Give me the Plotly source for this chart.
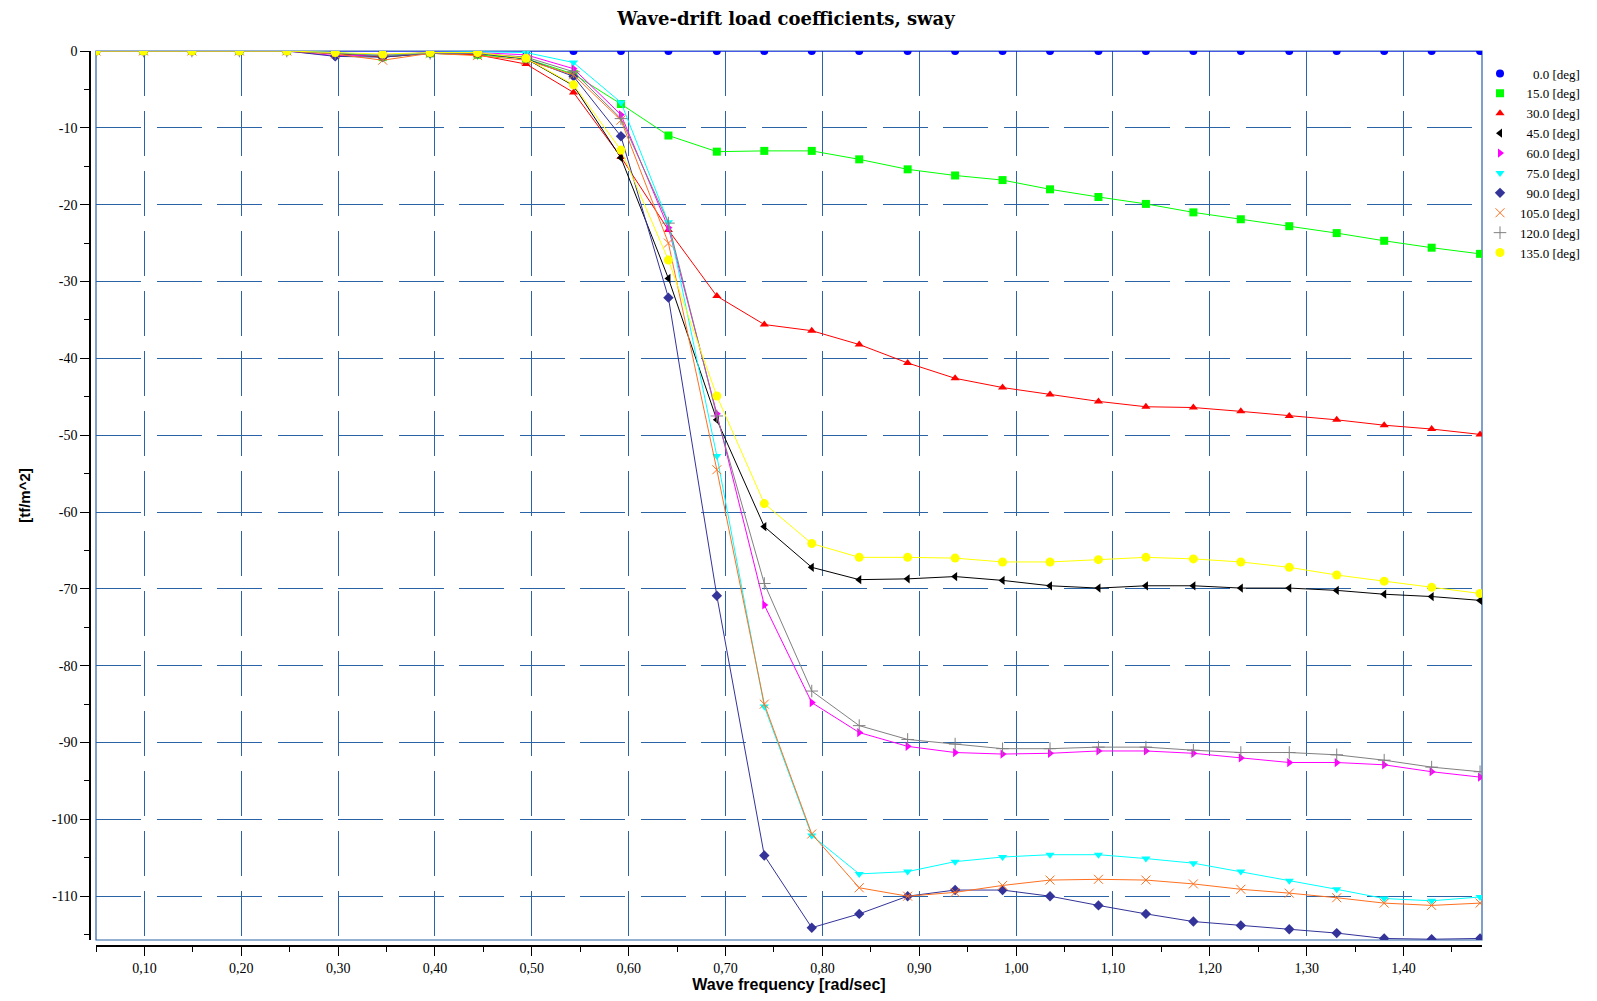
import plotly.graph_objects as go

# Wave frequencies [rad/sec]
freq = [0.050, 0.099, 0.149, 0.198, 0.247, 0.297, 0.346, 0.395, 0.444, 0.494,
        0.543, 0.592, 0.641, 0.691, 0.740, 0.789, 0.838, 0.888, 0.937, 0.986,
        1.035, 1.085, 1.134, 1.183, 1.232, 1.282, 1.331, 1.380, 1.429, 1.479]

headings = ["0.0", "15.0", "30.0", "45.0", "60.0", "75.0", "90.0", "105.0", "120.0", "135.0"]

sway_0 = [0.0] * 30
sway_15 = [0, 0, 0, 0, 0, -0.3, -0.8, -0.3, -0.5, -1.0,
           -3.0, -6.9, -11.0, -13.1, -13.0, -13.0, -14.1, -15.4, -16.2, -16.8,
           -18.0, -19.0, -19.9, -21.0, -21.9, -22.8, -23.7, -24.7, -25.6, -26.4]
sway_30 = [0, 0, 0, 0, 0, -0.3, -0.8, -0.3, -0.5, -1.7,
           -5.4, -13.8, -23.3, -31.9, -35.6, -36.4, -38.2, -40.6, -42.6, -43.8,
           -44.7, -45.6, -46.3, -46.4, -46.9, -47.5, -48.0, -48.7, -49.2, -49.9]
sway_45 = [0, 0, 0, 0, 0, -0.3, -0.6, -0.2, -0.3, -1.0,
           -4.5, -13.9, -29.6, -48.0, -61.9, -67.2, -68.8, -68.7, -68.4, -68.9,
           -69.6, -69.9, -69.6, -69.6, -69.9, -69.9, -70.2, -70.7, -71.0, -71.5]
sway_60 = [0, 0, 0, 0, 0, -0.6, -0.5, -0.2, -0.2, -0.5,
           -2.3, -8.3, -23.0, -47.2, -72.1, -84.8, -88.7, -90.5, -91.3, -91.5,
           -91.4, -91.1, -91.1, -91.4, -92.0, -92.6, -92.6, -92.9, -93.8, -94.5]
sway_75 = [0, 0, 0, 0, 0, -0.2, -0.6, -0.2, -0.1, -0.2,
           -1.5, -6.7, -22.3, -52.7, -85.3, -102.1, -107.1, -106.8, -105.5, -104.9,
           -104.6, -104.6, -105.1, -105.7, -106.8, -108.0, -109.1, -110.3, -110.6, -110.1]
sway_90 = [0, 0, 0, 0, 0, -0.7, -0.8, -0.3, -0.3, -1.0,
           -3.3, -11.1, -32.1, -70.9, -104.7, -114.1, -112.3, -110.0, -109.2, -109.2,
           -110.0, -111.2, -112.3, -113.3, -113.8, -114.3, -114.8, -115.5, -115.6, -115.5]
sway_105 = [0, 0, 0, 0, 0, -0.4, -1.2, -0.3, -0.6, -1.2,
            -3.1, -9.0, -25.0, -54.5, -85.0, -101.9, -108.9, -110.0, -109.5, -108.6,
            -107.9, -107.8, -107.9, -108.4, -109.1, -109.6, -110.2, -110.9, -111.2, -110.9]
sway_120 = [0, 0, 0, 0, 0, -0.3, -0.6, -0.3, -0.3, -0.8,
            -2.7, -8.8, -22.4, -47.5, -69.3, -83.3, -87.8, -89.6, -90.2, -90.8,
            -90.8, -90.6, -90.6, -91.0, -91.3, -91.3, -91.6, -92.3, -93.2, -93.8]
sway_135 = [0, 0, 0, 0, 0, -0.2, -0.4, -0.2, -0.2, -0.95,
            -4.4, -12.9, -27.2, -44.9, -58.9, -64.1, -65.9, -65.9, -66.0, -66.5,
            -66.5, -66.2, -65.9, -66.1, -66.5, -67.2, -68.2, -69.0, -69.8, -70.6]

series = [sway_0, sway_15, sway_30, sway_45, sway_60, sway_75, sway_90, sway_105, sway_120, sway_135]

y_tick_vals = [0, -10, -20, -30, -40, -50, -60, -70, -80, -90, -100, -110]
y_tick_text = ["0", "-10", "-20", "-30", "-40", "-50", "-60", "-70", "-80", "-90", "-100", "-110"]

colors = ["#0000ff", "#00ff00", "#ff0000", "#000000", "#ff00ff", "#00ffff",
          "#333399", "#ff7020", "#808080", "#ffff00"]
symbols = ["circle", "square", "triangle-up", "triangle-left", "triangle-right",
           "triangle-down", "diamond", "x-thin", "cross-thin", "circle"]
sizes = [8, 8, 8, 8, 8, 8, 8, 9, 9, 9]

# page body has an 8px margin: figure is placed at (8, 8)
W, H = 1581, 985
L, R, T, B = 82, 107, 43, 47
OFF = 6
PW, PH = W - L - R, H - T - B

fig = go.Figure()

for vals, col, sym, sz in zip(series, colors, symbols, sizes):
    thin = sym.endswith("-thin")
    fig.add_trace(go.Scatter(
        x=freq, y=vals, mode="lines+markers", showlegend=False,
        line=dict(color=col, width=1),
        marker=dict(symbol=sym, size=sz, color=col,
                    line=dict(color=col, width=1 if thin else 0)),
    ))

# legend entries (marker only)
pad = {1: "\u2007\u2007", 2: "\u2007", 3: ""}
for name, col, sym, sz in zip(headings, colors, symbols, sizes):
    thin = sym.endswith("-thin")
    label = pad[len(name.split(".")[0])] + name + " [deg]"
    fig.add_trace(go.Scatter(
        x=[None], y=[None], mode="markers", name=label,
        marker=dict(symbol=sym, size=sz, color=col,
                    line=dict(color=col, width=1 if thin else 0)),
    ))

grid_col = "#2a63a6"

fig.update_layout(
    width=W, height=H,
    margin=dict(l=L, r=R, t=T, b=B, pad=0, autoexpand=False),
    paper_bgcolor="white", plot_bgcolor="white",
    separators=", ",
    title=dict(text="<b>Wave-drift load coefficients, sway</b>",
               x=0.5, xref="paper", xanchor="center",
               y=1 - 11.0 / H, yref="container", yanchor="middle",
               font=dict(family="DejaVu Serif", size=18, color="black")),
    font=dict(family="Liberation Serif", size=13, color="black"),
    legend=dict(x=(1480 - 8) / W, xref="container", xanchor="left",
                y=1 - (58.5 - 8) / H, yref="container", yanchor="top",
                bgcolor="rgba(0,0,0,0)", borderwidth=0,
                font=dict(family="Liberation Serif", size=13, color="black"),
                itemwidth=30, tracegroupgap=0),
    xaxis=dict(
        domain=[OFF / PW, 1], anchor="free", position=0,
        range=[0.05, 1.481], autorange=False,
        tickmode="linear", tick0=0, dtick=0.1, tickformat=".2f",
        ticks="outside", ticklen=9, tickwidth=1, tickcolor="black",
        minor=dict(tick0=0.05, dtick=0.1, ticks="outside", ticklen=5,
                   tickwidth=1, tickcolor="black", showgrid=False),
        showline=True, linecolor="black", linewidth=1.5,
        showgrid=True, gridcolor=grid_col, gridwidth=1, griddash="45px,15px",
        zeroline=False, automargin=False,
        tickfont=dict(family="Liberation Serif", size=14, color="black"),
        title=dict(text="<b>Wave frequency [rad/sec]</b>", standoff=22,
                   font=dict(family="Liberation Sans", size=16, color="black")),
    ),
    yaxis=dict(
        domain=[OFF / PH, 1], anchor="free", position=0,
        range=[-115.7, 0], autorange=False,
        tickmode="array", tickvals=y_tick_vals, ticktext=y_tick_text,
        ticks="outside", ticklen=9, tickwidth=1, tickcolor="black",
        minor=dict(tick0=0, dtick=5, ticks="outside", ticklen=5,
                   tickwidth=1, tickcolor="black", showgrid=False),
        showline=True, linecolor="black", linewidth=1.5,
        showgrid=True, gridcolor=grid_col, gridwidth=1, griddash="45px,15.5px",
        zeroline=False, automargin=False,
        tickfont=dict(family="Liberation Serif", size=14, color="black"),
        title=dict(text="<b>[tf/m^2]</b>", standoff=17,
                   font=dict(family="Liberation Sans", size=15, color="black")),
    ),
    shapes=[dict(type="rect", xref="x domain", yref="y domain",
                 x0=0, x1=1, y0=0, y1=1, layer="below",
                 line=dict(color=grid_col, width=1.2))],
)

fig.write_html("out.html")
